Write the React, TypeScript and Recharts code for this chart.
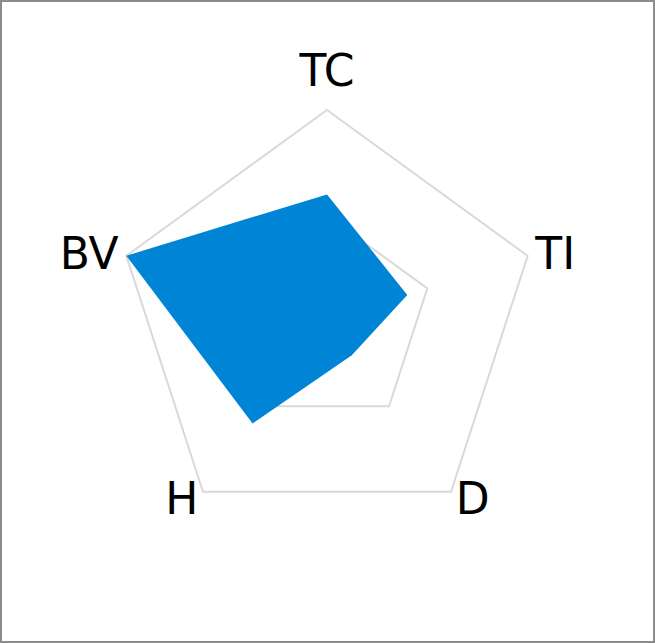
import React from "react";
import { RadarChart, Radar, PolarGrid, PolarAngleAxis, PolarRadiusAxis } from "recharts";

// axis labels, clockwise from the top
const categories = ["TC", "TI", "D", "H", "BV"];
// score for each axis, out of 5
const scores = [3, 2, 1, 3, 5];

const data = categories.map((name, i) => ({ name, score: scores[i] }));

function AxisLabel(props: any) {
  const { x, y, cy, textAnchor, payload } = props;
  // top label sits above its point, the rest are centred on it
  const isTop = textAnchor === "middle" && y < cy;
  return (
    <text
      x={x}
      y={isTop ? y - 16 : y + 16}
      textAnchor={textAnchor}
      fill="#000"
      fontSize={44}
      fontFamily="'DejaVu Sans', sans-serif"
    >
      {payload.value}
    </text>
  );
}

export default function App() {
  return (
    <div
      style={{
        position: "fixed",
        top: 0,
        left: 0,
        width: 655,
        height: 643,
        boxSizing: "border-box",
        border: "2px solid #8c8c8c",
        background: "#fff",
      }}
    >
      <RadarChart
        width={651}
        height={639}
        data={data}
        cx={325}
        cy={319}
        outerRadius={211}
        margin={{ top: 0, right: 0, bottom: 0, left: 0 }}
      >
        <PolarGrid
          gridType="polygon"
          radialLines={false}
          polarRadius={[105.5, 211]}
          stroke="#d9d9d9"
          strokeWidth={2}
        />
        <PolarAngleAxis dataKey="name" tick={<AxisLabel />} tickLine={false} axisLine={false} />
        <PolarRadiusAxis domain={[0, 5]} tick={false} axisLine={false} tickLine={false} />
        <Radar
          dataKey="score"
          fill="#0084d6"
          fillOpacity={1}
          stroke="none"
          isAnimationActive={false}
        />
      </RadarChart>
    </div>
  );
}
